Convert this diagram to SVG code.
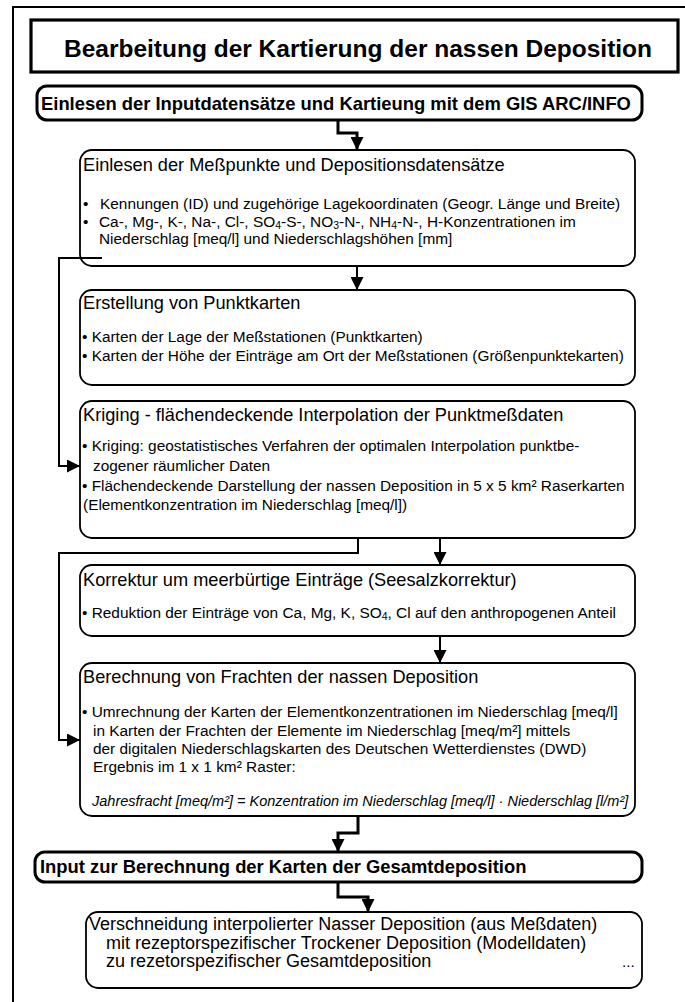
<svg xmlns="http://www.w3.org/2000/svg" width="685" height="1002" viewBox="0 0 685 1002">
<style>
text{font-family:"Liberation Sans",Arial,Helvetica,sans-serif;fill:#000}
.ttl{font-size:24.5px;font-weight:bold}
.hb{font-size:18.4px;font-weight:bold}
.h{font-size:18.2px}
.b{font-size:15.4px}
.it{font-size:14.5px;font-style:italic}
.big{font-size:18px}
.box{fill:#fff;stroke:#000;stroke-width:1.8}
.ibox{fill:#fff;stroke:#000;stroke-width:3}
.c{fill:none;stroke:#000;stroke-width:2}
.ct{fill:none;stroke:#000;stroke-width:3}
.sub{font-size:10.5px}
</style>
<defs>
<marker id="ah" markerUnits="userSpaceOnUse" markerWidth="13" markerHeight="13" refX="13" refY="6.5" orient="auto">
<path d="M0,0 L13,6.5 L0,13 z" fill="#000"/>
</marker>
</defs>
<rect id="frame" x="13" y="7" width="700" height="1020" fill="none" stroke="#000" stroke-width="2"/>
<g id="title">
<rect x="31" y="20" width="647" height="52" fill="#fff" stroke="#000" stroke-width="3.2"/>
<text class="ttl" x="358" y="57" text-anchor="middle">Bearbeitung der Kartierung der nassen Deposition</text>
</g>
<g id="input1">
<rect class="ibox" x="37" y="86" width="605" height="34" rx="10"/>
<text class="hb" x="41" y="110">Einlesen der Inputdatensätze und Kartieung mit dem GIS ARC/INFO</text>
</g>
<g id="box1">
<rect class="box" x="80" y="150" width="555" height="116" rx="12"/>
<text class="h" x="83" y="171">Einlesen der Meßpunkte und Depositionsdatensätze</text>
<text class="b" x="83" y="209">•</text>
<text class="b" x="100" y="209">Kennungen (ID) und zugehörige Lagekoordinaten (Geogr. Länge und Breite)</text>
<text class="b" x="83" y="226.5">•</text>
<text class="b" x="99" y="226.5">Ca-, Mg-, K-, Na-, Cl-, SO<tspan class="sub" dy="2">4</tspan><tspan dy="-2">-S-, NO</tspan><tspan class="sub" dy="2">3</tspan><tspan dy="-2">-N-, NH</tspan><tspan class="sub" dy="2">4</tspan><tspan dy="-2">-N-, H-Konzentrationen im</tspan></text>
<text class="b" x="99" y="244">Niederschlag [meq/l] und Niederschlagshöhen [mm]</text>
</g>
<g id="box2">
<rect class="box" x="80" y="290" width="555" height="95" rx="12"/>
<text class="h" x="83" y="309">Erstellung von Punktkarten</text>
<text class="b" x="82" y="342">• Karten der Lage der Meßstationen (Punktkarten)</text>
<text class="b" x="82" y="361">• Karten der Höhe der Einträge am Ort der Meßstationen (Größenpunktekarten)</text>
</g>
<g id="box3">
<rect class="box" x="80" y="401" width="555" height="137" rx="12"/>
<text class="h" x="83" y="421">Kriging - flächendeckende Interpolation der Punktmeßdaten</text>
<text class="b" x="82" y="451">• Kriging: geostatistisches Verfahren der optimalen Interpolation punktbe-</text>
<text class="b" x="93" y="471">zogener räumlicher Daten</text>
<text class="b" x="82" y="491">• Flächendeckende Darstellung der nassen Deposition in 5 x 5 km² Raserkarten</text>
<text class="b" x="83" y="510">(Elementkonzentration im Niederschlag [meq/l])</text>
</g>
<g id="box4">
<rect class="box" x="80" y="565" width="555" height="71" rx="12"/>
<text class="h" x="83" y="586">Korrektur um meerbürtige Einträge (Seesalzkorrektur)</text>
<text class="b" x="82" y="618">• Reduktion der Einträge von Ca, Mg, K, SO<tspan class="sub" dy="2">4</tspan><tspan dy="-2">, Cl auf den anthropogenen Anteil</tspan></text>
</g>
<g id="box5">
<rect class="box" x="80" y="663" width="555" height="153" rx="12"/>
<text class="h" x="83" y="683">Berechnung von Frachten der nassen Deposition</text>
<text class="b" x="82" y="717">• Umrechnung der Karten der Elementkonzentrationen im Niederschlag [meq/l]</text>
<text class="b" x="93" y="736">in Karten der Frachten der Elemente im Niederschlag [meq/m²] mittels</text>
<text class="b" x="93" y="754">der digitalen Niederschlagskarten des Deutschen Wetterdienstes (DWD)</text>
<text class="b" x="93" y="772">Ergebnis im 1 x 1 km² Raster:</text>
<text class="it" x="92" y="806">Jahresfracht [meq/m²] = Konzentration im Niederschlag [meq/l] · Niederschlag [l/m²]</text>
</g>
<g id="input2">
<rect class="ibox" x="35" y="852" width="607" height="30" rx="10"/>
<text class="hb" x="40" y="873">Input zur Berechnung der Karten der Gesamtdeposition</text>
</g>
<g id="box6">
<rect class="box" x="86" y="912" width="556" height="76" rx="12"/>
<text class="big" x="89" y="930">Verschneidung interpolierter Nasser Deposition (aus Meßdaten)</text>
<text class="big" x="106" y="948.5">mit rezeptorspezifischer Trockener Deposition (Modelldaten)</text>
<text class="big" x="106" y="967">zu rezetorspezifischer Gesamtdeposition</text>
<text class="b" x="622" y="967">...</text>
</g>
<g id="connectors">
<path class="ct" d="M338,120 V133 H357 V150" marker-end="url(#ah)"/>
<path class="c" d="M357,266 V290" marker-end="url(#ah)"/>
<path class="c" d="M102,258 H59 V466 H80" marker-end="url(#ah)"/>
<path class="c" d="M440,538 V565" marker-end="url(#ah)"/>
<path class="c" d="M358,538 V553 H59 V740 H80" marker-end="url(#ah)"/>
<path class="c" d="M440,636 V663" marker-end="url(#ah)"/>
<path class="ct" d="M358,816 V833 H338 V852" marker-end="url(#ah)"/>
<path class="ct" d="M338,882 V897 H368 V912" marker-end="url(#ah)"/>
</g>
</svg>
